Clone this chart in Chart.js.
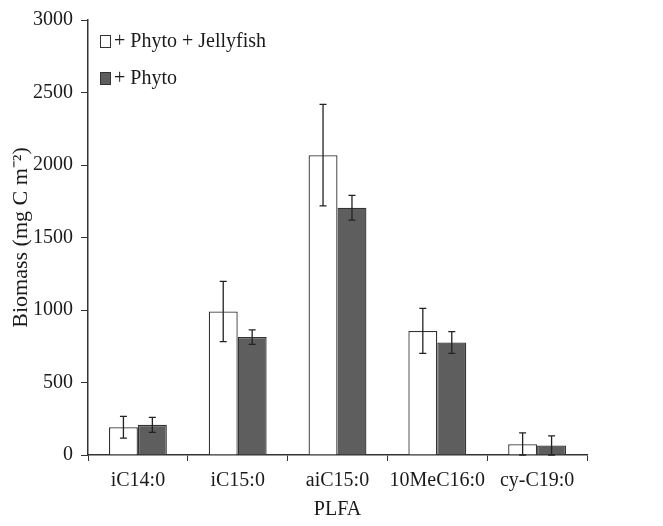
<!DOCTYPE html>
<html>
<head>
<meta charset="utf-8">
<script src="https://cdn.jsdelivr.net/npm/chart.js@4"></script>
<style>
  html, body { margin: 0; padding: 0; background: #fff; }
  #wrap { width: 663px; height: 526px; }
</style>
</head>
<body>
<div id="wrap"><canvas id="myChart" width="663" height="526"></canvas></div>
<script>
const categories = ['iC14:0', 'iC15:0', 'aiC15:0', '10MeC16:0', 'cy-C19:0'];
const jellyValues = [192, 990, 2068, 856, 75];
const jellyErrors = [75, 208, 350, 155, 78];
const phytoValues = [208, 813, 1705, 776, 66];
const phytoErrors = [52, 50, 85, 75, 66];

const serif = '"Liberation Serif", "Times New Roman", serif';
const ink = '#333333';

// error bars drawn from the arrays above through the y scale
const errorBars = {
  id: 'errorBars',
  afterDatasetsDraw(chart) {
    const ctx = chart.ctx;
    const y = chart.scales.y;
    ctx.save();
    ctx.strokeStyle = '#222';
    ctx.lineWidth = 1.3;
    chart.data.datasets.forEach((ds, i) => {
      const meta = chart.getDatasetMeta(i);
      meta.data.forEach((bar, j) => {
        const v = ds.data[j], e = ds.errors[j];
        const top = y.getPixelForValue(v + e);
        const bot = y.getPixelForValue(Math.max(0, v - e));
        ctx.beginPath();
        ctx.moveTo(bar.x, top); ctx.lineTo(bar.x, bot);
        ctx.moveTo(bar.x - 3.5, top); ctx.lineTo(bar.x + 3.5, top);
        ctx.moveTo(bar.x - 3.5, bot); ctx.lineTo(bar.x + 3.5, bot);
        ctx.stroke();
      });
    });
    ctx.restore();
  }
};

// legend drawn inside the plot, top-left
const innerLegend = {
  id: 'innerLegend',
  afterDraw(chart) {
    const ctx = chart.ctx;
    const a = chart.chartArea;
    ctx.save();
    ctx.font = '20px ' + serif;
    ctx.textBaseline = 'middle';
    chart.data.datasets.forEach((ds, i) => {
      const x = a.left + 12, y = a.top + 21 + i * 37;
      ctx.fillStyle = ds.backgroundColor;
      ctx.strokeStyle = ink;
      ctx.lineWidth = 1;
      ctx.fillRect(x, y - 6, 10, 12);
      ctx.strokeRect(x + 0.5, y - 5.5, 10, 12);
      ctx.fillStyle = '#1a1a1a';
      ctx.fillText(ds.label, x + 14, y + 1);
    });
    ctx.restore();
  }
};

const data = {
  labels: categories,
  datasets: [{
    label: '+ Phyto + Jellyfish',
    backgroundColor: '#ffffff',
    borderColor: ink,
    borderWidth: 1.3,
    data: jellyValues,
    errors: jellyErrors,
  },
  {
    label: '+ Phyto',
    backgroundColor: '#5e5e5e',
    borderColor: ink,
    borderWidth: 1.3,
    data: phytoValues,
    errors: phytoErrors,
  }]
};

const config = {
  type: 'bar',
  data: data,
  options: {
    responsive: false,
    animation: false,
    layout: { padding: { left: 4, right: 76, top: 5, bottom: 0 } },
    datasets: { bar: { categoryPercentage: 0.58, barPercentage: 1 } },
    plugins: {
      legend: { display: false },
      tooltip: { enabled: false }
    },
    scales: {
      x: {
        afterFit: s => { s.height = 71; },
        grid: { offset: true, drawOnChartArea: false, drawTicks: true, tickLength: 6, color: ink },
        border: { color: ink, width: 1.5 },
        ticks: { color: '#1a1a1a', font: { family: serif, size: 20 }, padding: 8, maxRotation: 0 },
        title: { display: true, text: 'PLFA', color: '#1a1a1a', font: { family: serif, size: 20 }, padding: { top: 7 } }
      },
      y: {
        min: 0, max: 3000,
        afterFit: s => { s.width = 84; },
        grid: { drawOnChartArea: false, drawTicks: true, tickLength: 7, color: ink },
        border: { color: ink, width: 1.5 },
        ticks: { stepSize: 500, color: '#1a1a1a', font: { family: serif, size: 20 }, padding: 8,
          callback: v => String(v) },
        title: { display: true, text: 'Biomass (mg C m⁻²)', color: '#1a1a1a', font: { family: serif, size: 22 }, padding: { bottom: 2 } }
      }
    }
  },
  plugins: [errorBars, innerLegend]
};

const myChart = new Chart(document.getElementById('myChart'), config);
</script>
</body>
</html>
